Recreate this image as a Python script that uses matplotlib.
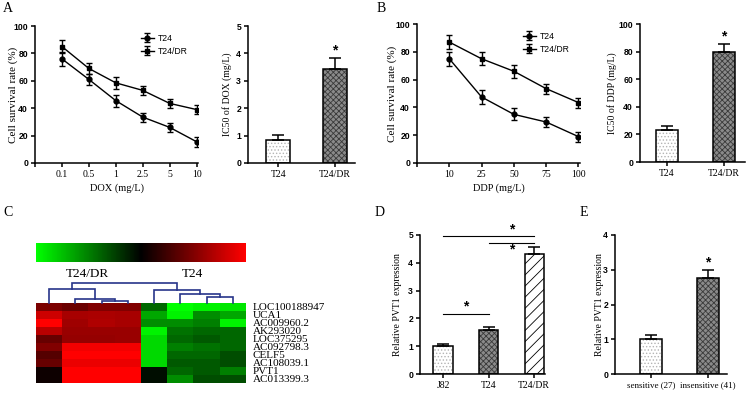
import numpy as np
import matplotlib
matplotlib.use('Agg')
import matplotlib.pyplot as plt
from matplotlib.colors import LinearSegmentedColormap

W, H = 746, 393
SERIF = 'Liberation Serif'
SANS = 'Liberation Sans'
plt.rcParams['hatch.linewidth'] = 0.6

# ---------------- data ----------------
dox_labels = ['0.1', '0.5', '1', '2.5', '5', '10']
dox_t24 = [76, 61, 45.5, 33.5, 26, 15.5]
dox_t24_err = [4.9, 4.0, 4.3, 3.3, 3.3, 3.7]
dox_dr = [85, 69, 58.5, 53, 43.5, 39]
dox_dr_err = [5.0, 4.0, 4.4, 3.2, 3.0, 3.3]

ic50_groups = ['T24', 'T24/DR']
ic50_dox = [0.85, 3.42]
ic50_dox_err = [0.17, 0.42]

ddp_labels = ['10', '25', '50', '75', '100']
ddp_t24 = [75, 47.5, 35, 29.5, 19]
ddp_t24_err = [5.0, 4.8, 4.4, 3.6, 3.6]
ddp_dr = [87, 75, 66, 53.5, 43.5]
ddp_dr_err = [4.8, 4.8, 4.7, 3.6, 3.6]

ic50_ddp = [23.5, 79.5]
ic50_ddp_err = [2.5, 6.3]

genes = ['LOC100188947', 'UCA1', 'AC009960.2', 'AK293020', 'LOC375295',
         'AC092798.3', 'CELF5', 'AC108039.1', 'PVT1', 'AC013399.3']
heat_t24dr = [
    [0.48, 0.42, 0.50, 0.50],
    [0.80, 0.65, 0.67, 0.65],
    [1.00, 0.62, 0.68, 0.65],
    [0.72, 0.60, 0.60, 0.60],
    [0.40, 0.58, 0.58, 0.60],
    [0.50, 0.95, 0.95, 0.95],
    [0.33, 1.00, 1.00, 1.00],
    [0.40, 0.92, 0.92, 0.92],
    [0.05, 1.00, 1.00, 1.00],
    [0.05, 1.00, 1.00, 1.00],
]
heat_t24 = [
    [-0.40, -1.00, -0.95, -0.90],
    [-0.65, -0.95, -0.55, -0.65],
    [-0.55, -0.55, -0.50, -0.95],
    [-0.95, -0.45, -0.40, -0.40],
    [-0.85, -0.40, -0.35, -0.40],
    [-0.85, -0.50, -0.45, -0.40],
    [-0.85, -0.40, -0.40, -0.30],
    [-0.85, -0.35, -0.35, -0.30],
    [-0.05, -0.40, -0.35, -0.50],
    [-0.05, -0.55, -0.30, -0.30],
]
# dendrogram merges (node_a, node_b, height); leaves 0..7, new nodes from 8
dendro_merges = [(2, 3, 6), (1, 8, 11), (0, 9, 41), (6, 7, 18),
                 (5, 11, 25), (4, 12, 38), (10, 13, 58)]
cluster_names = ['T24/DR', 'T24']

pvt1_lines = ['J82', 'T24', 'T24/DR']
pvt1_cell = [1.02, 1.57, 4.32]
pvt1_cell_err = [0.06, 0.12, 0.24]

patient_groups = ['sensitive (27)', 'insensitive (41)']
pvt1_patient = [1.0, 2.76]
pvt1_patient_err = [0.13, 0.24]

# ---------------- helpers ----------------
fig = plt.figure(figsize=(W / 100, H / 100), dpi=100)


def axpx(l, t, r, b):
    return fig.add_axes([l / W, 1 - b / H, (r - l) / W, (b - t) / H])


def style(ax, yticks):
    for s in ['top', 'right']:
        ax.spines[s].set_visible(False)
    for s in ['left', 'bottom']:
        ax.spines[s].set_linewidth(1.1)
    ax.tick_params(direction='out', length=3, width=1.1, pad=2)
    ax.set_yticks(yticks)
    for lab in ax.get_yticklabels():
        lab.set_fontfamily(SANS)
        lab.set_fontweight('bold')
        lab.set_fontsize(6.2)


def xlabels(ax, pos, labels, size=7):
    ax.set_xticks(pos)
    ax.set_xticklabels(labels, fontfamily=SERIF, fontsize=size)


def ylabel_at(ax, text, xpx, size=7):
    ax.set_ylabel(text, fontfamily=SERIF, fontsize=size)
    bb = ax.get_position()
    l = bb.x0 * W
    w = bb.width * W
    ax.yaxis.set_label_coords((xpx - l) / w, 0.5)


def pbar(ax, x, h, w, kind):
    if kind == 'dots':
        ax.bar(x, h, w, color='white', hatch='.....', edgecolor='#b4b4b4', lw=0, zorder=2)
    elif kind == 'check':
        ax.bar(x, h, w, color='#8a8a8a', hatch='xxxxxx', edgecolor='#3a3a3a', lw=0, zorder=2)
    else:
        ax.bar(x, h, w, color='white', hatch='///', edgecolor='black', lw=0, zorder=2)
    ax.bar(x, h, w, fill=False, edgecolor='black', lw=1.1, zorder=3)


def uperr(ax, x, h, e, cap=4.5):
    ax.errorbar(x, h, yerr=[[0], [e]], fmt='none', ecolor='black',
                elinewidth=1.1, capsize=cap, capthick=1.1, zorder=4)


def star(ax, x, y, size=10):
    ax.text(x, y, '*', ha='center', va='center', fontfamily=SANS,
            fontweight='bold', fontsize=size, clip_on=False)


def line_panel(ax, labels, s1, e1, s2, e2):
    x = np.arange(1, len(labels) + 1)
    ax.errorbar(x, s1, yerr=e1, fmt='-o', color='black', ms=3.5, lw=1,
                elinewidth=1, capsize=2.5, capthick=1, label='T24')
    ax.errorbar(x, s2, yerr=e2, fmt='-s', color='black', ms=3.5, lw=1,
                elinewidth=1, capsize=2.5, capthick=1, label='T24/DR')
    xlabels(ax, np.arange(0, len(labels) + 1), [''] + labels)
    ax.set_xlim(0, len(labels) + 0.05)
    ax.set_ylim(0, 100)
    ax.legend(frameon=False, loc='upper left', bbox_to_anchor=(0.6, 1.0),
              handlelength=1.6, handletextpad=0.4, labelspacing=0.45,
              prop={'family': SANS, 'size': 6.2})


# ---------------- Panel A ----------------
axA = axpx(35, 26, 198, 163)
line_panel(axA, dox_labels, dox_t24, dox_t24_err, dox_dr, dox_dr_err)
style(axA, [0, 20, 40, 60, 80, 100])
axA.set_xlabel('DOX (mg/L)', fontfamily=SERIF, fontsize=7.5, labelpad=3)
ylabel_at(axA, 'Cell survival rate (%)', 18, size=8)

axA2 = axpx(248, 26, 355, 163)
for i, kind in enumerate(['dots', 'check']):
    pbar(axA2, i, ic50_dox[i], 0.42, kind)
    uperr(axA2, i, ic50_dox[i], ic50_dox_err[i])
star(axA2, 1, ic50_dox[1] + ic50_dox_err[1] + 0.28)
axA2.set_xlim(-0.53, 1.35)
axA2.set_ylim(0, 5)
style(axA2, [0, 1, 2, 3, 4, 5])
xlabels(axA2, [0, 1], ic50_groups)
ylabel_at(axA2, 'IC50 of DOX (mg/L)', 232)

# ---------------- Panel B ----------------
axB = axpx(417, 24, 580, 163)
line_panel(axB, ddp_labels, ddp_t24, ddp_t24_err, ddp_dr, ddp_dr_err)
style(axB, [0, 20, 40, 60, 80, 100])
axB.set_xlabel('DDP (mg/L)', fontfamily=SERIF, fontsize=7.5, labelpad=3)
ylabel_at(axB, 'Cell survival rate (%)', 397, size=8)

axB2 = axpx(640, 24, 745, 162)
for i, kind in enumerate(['dots', 'check']):
    pbar(axB2, i, ic50_ddp[i], 0.39, kind)
    uperr(axB2, i, ic50_ddp[i], ic50_ddp_err[i])
star(axB2, 1, ic50_ddp[1] + ic50_ddp_err[1] + 5.5)
axB2.set_xlim(-0.47, 1.37)
axB2.set_ylim(0, 100)
style(axB2, [0, 20, 40, 60, 80, 100])
xlabels(axB2, [0, 1], ic50_groups)
ylabel_at(axB2, 'IC50 of DDP (mg/L)', 617)

# ---------------- Panel C ----------------
cmap = LinearSegmentedColormap.from_list('gkr', ['#00ff00', '#000000', '#ff0000'])
mat = np.hstack([np.array(heat_t24dr), np.array(heat_t24)])
axH = axpx(36, 303, 246, 383)
axH.imshow(mat, cmap=cmap, vmin=-1, vmax=1, aspect='auto',
           extent=(0, mat.shape[1], mat.shape[0], 0), interpolation='nearest')
axH.set_xticks([])
axH.yaxis.tick_right()
axH.set_yticks(np.arange(len(genes)) + 0.5)
axH.set_yticklabels(genes, fontfamily=SERIF, fontsize=8)
axH.tick_params(axis='y', length=0, pad=5)
for s in axH.spines.values():
    s.set_visible(False)

axC = axpx(36, 243, 246, 262)
cb = fig.colorbar(plt.cm.ScalarMappable(norm=plt.Normalize(-1, 1), cmap=cmap),
                  cax=axC, orientation='horizontal')
cb.set_ticks([])
cb.outline.set_visible(False)

axD = axpx(36, 283, 246, 303)
nleaf = mat.shape[1]
nodes = {i: (i + 0.5, 0.0) for i in range(nleaf)}
for k, (a, b, h) in enumerate(dendro_merges):
    xa, ha = nodes[a]
    xb, hb = nodes[b]
    axD.plot([xa, xa, xb, xb], [ha, h, h, hb], color='#27358a', lw=1.2,
             clip_on=False, solid_joinstyle='miter')
    nodes[nleaf + k] = ((xa + xb) / 2, h)
axD.set_xlim(0, nleaf)
axD.set_ylim(0, dendro_merges[-1][2])
axD.axis('off')
fig.text(87 / W, 1 - 274 / H, cluster_names[0], ha='center', va='center',
         fontfamily=SERIF, fontsize=9.5)
fig.text(192 / W, 1 - 274 / H, cluster_names[1], ha='center', va='center',
         fontfamily=SERIF, fontsize=9.5)

# ---------------- Panel D ----------------
axDd = axpx(420, 235, 545, 374)
for i, kind in enumerate(['dots', 'check', 'diag']):
    pbar(axDd, i, pvt1_cell[i], 0.42, kind)
    uperr(axDd, i, pvt1_cell[i], pvt1_cell_err[i], cap=4)
for (a, b, y, sx, sy) in [(0, 1, 2.15, 0.5, 2.42), (1, 2, 4.72, 1.5, 4.49), (0, 2, 4.96, 1.5, 5.19)]:
    axDd.plot([a, b], [y, y], color='black', lw=0.8, clip_on=False)
    star(axDd, sx, sy)
axDd.set_xlim(-0.505, 2.24)
axDd.set_ylim(0, 5)
style(axDd, [0, 1, 2, 3, 4, 5])
xlabels(axDd, [0, 1, 2], pvt1_lines)
ylabel_at(axDd, 'Relative PVT1 expression', 402)

# ---------------- Panel E ----------------
axE = axpx(615, 235, 727, 374)
for i, kind in enumerate(['dots', 'check']):
    pbar(axE, i, pvt1_patient[i], 0.38, kind)
    uperr(axE, i, pvt1_patient[i], pvt1_patient_err[i])
star(axE, 1, pvt1_patient[1] + pvt1_patient_err[1] + 0.22)
axE.set_xlim(-0.63, 1.33)
axE.set_ylim(0, 4)
style(axE, [0, 1, 2, 3, 4])
xlabels(axE, [0, 1], patient_groups, size=6.5)
ylabel_at(axE, 'Relative PVT1 expression', 604)

# ---------------- panel letters ----------------
for txt, x, y in [('A', 8, 8), ('B', 381, 8), ('C', 8, 213), ('D', 380, 213), ('E', 584, 213)]:
    fig.text(x / W, 1 - y / H, txt, ha='center', va='center', fontfamily=SERIF, fontsize=10)

fig.savefig('out.png', dpi=100)
